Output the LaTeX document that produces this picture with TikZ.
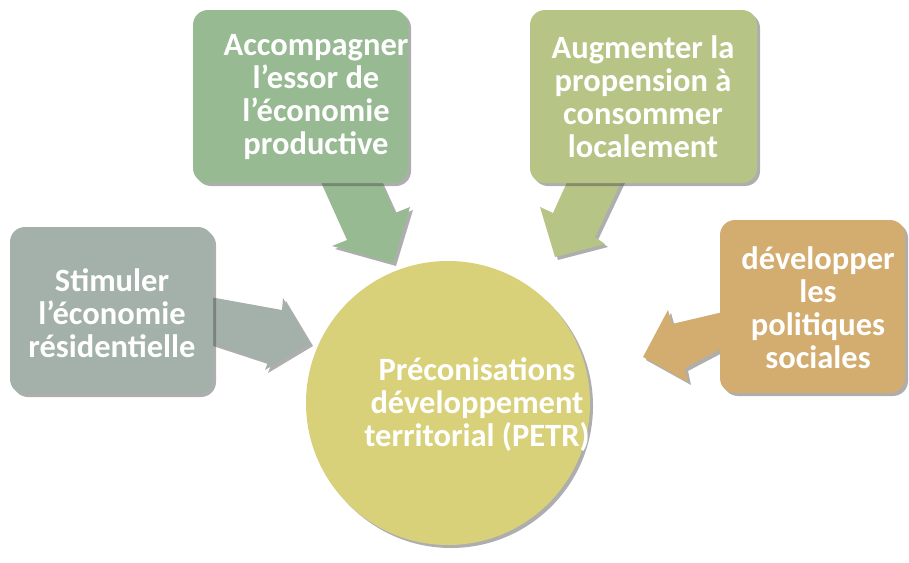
\documentclass[tikz,border=0pt]{standalone}
\usepackage{fontspec}
\setmainfont{Carlito}
\usetikzlibrary{shadows}
\definecolor{cgray}{RGB}{164,177,170}
\definecolor{cgreen}{RGB}{151,186,146}
\definecolor{colive}{RGB}{182,196,133}
\definecolor{ctan}{RGB}{210,173,111}
\definecolor{cyel}{RGB}{216,209,122}
\tikzset{
  shad/.style={drop shadow={shadow xshift=3pt,shadow yshift=-3pt,opacity=0.45,fill=black!70}},
  boxs/.style={shad,rounded corners=15pt,draw=none},
  lbl/.style={text=white,align=center,font=\fontsize{32.5}{33}\selectfont\bfseries},
  arr/.style={shad,draw=none}
}
\begin{document}
\begin{tikzpicture}[x=1pt,y=-1pt]
\useasboundingbox (0,0) rectangle (909,562);
% circle
\fill[cyel,shad] (448,403) circle (142);
\node[lbl] (c) at (477,405) {Préconisations\\développement\\territorial (PETR)};
% arrows
\fill[cgreen,arr] (320,180) -- (347,240) -- (332,246) -- (393,263) -- (410,207) -- (395,213) -- (380,180) -- cycle;
\fill[colive,arr] (568,180) -- (553,213) -- (540,207) -- (555,257) -- (605,244) -- (595,237) -- (622,180) -- cycle;
\fill[cgray,arr] (210,297) -- (282,310) -- (283,298) -- (310,343) -- (265,370) -- (268,362) -- (210,343) -- cycle;
\fill[ctan,arr] (723,312) -- (672,324) -- (668,310) -- (643,357) -- (688,382) -- (685,368) -- (723,348) -- cycle;
% boxes
\fill[cgray,boxs] (10,227) rectangle (213,394);
\node[lbl] (b1) at (112,313) {Stimuler\\l’économie\\résidentielle};
\fill[cgreen,boxs] (193,10) rectangle (408,183);
\node[lbl] (b2) at (316,97) {Accompagner\\l’essor de\\l’économie\\productive};
\fill[colive,boxs] (530,10) rectangle (757,183);
\node[lbl] (b3) at (643,97) {Augmenter la\\propension à\\consommer\\localement};
\fill[ctan,boxs] (720,220) rectangle (905,393);
\node[lbl] (b4) at (818,308) {développer\\les\\politiques\\sociales};
\end{tikzpicture}
\end{document}
